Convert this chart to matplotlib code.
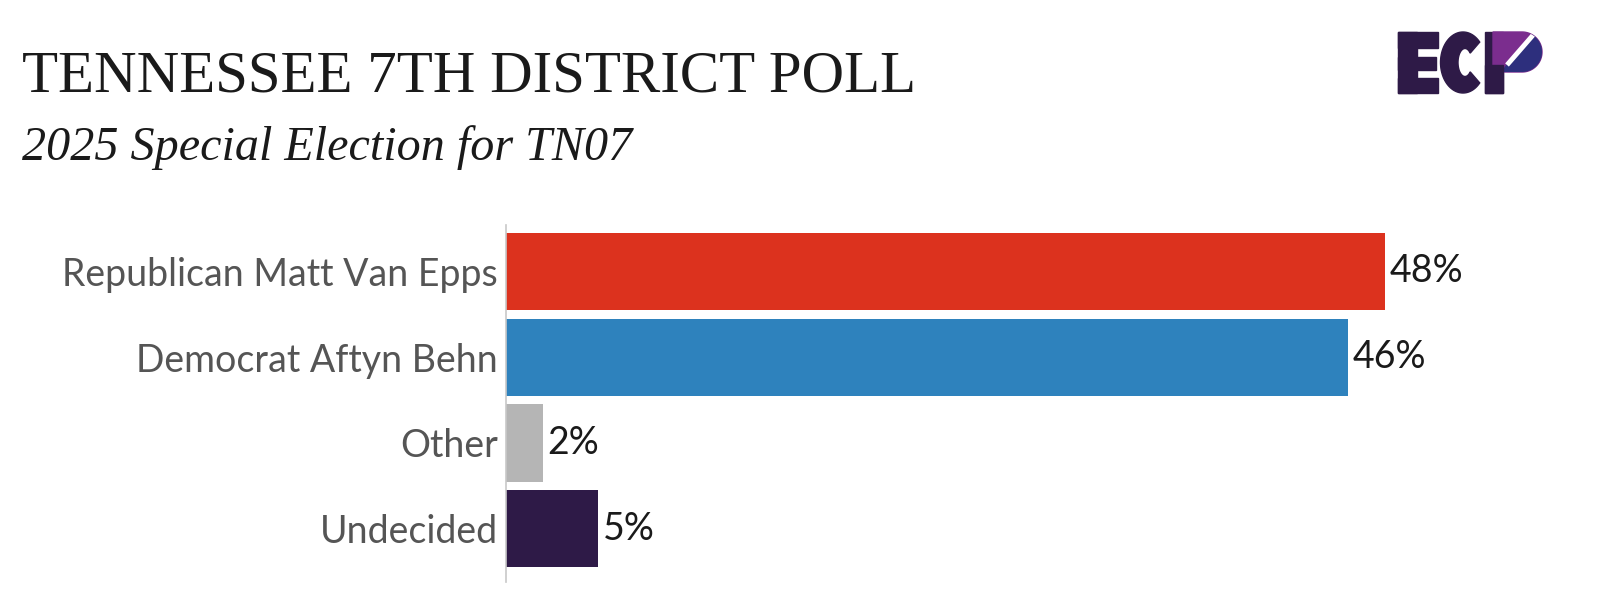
import numpy as np
import matplotlib.pyplot as plt
from matplotlib.patches import Rectangle, Polygon

candidates = ['Republican Matt Van Epps', 'Democrat Aftyn Behn', 'Other', 'Undecided']
shares = [48, 46, 2, 5]
colors = ['#dc321e', '#2e82bd', '#b5b5b5', '#2e1a47']

title = 'TENNESSEE 7TH DISTRICT POLL'
subtitle = '2025 Special Election for TN07'

W, H = 1600, 608
fig = plt.figure(figsize=(W / 100, H / 100), dpi=100)

# axes box in pixels: left 506, top 225, right 1560, bottom 582
ax = fig.add_axes([506 / W, 1 - 582 / H, (1560 - 506) / W, (582 - 225) / H])
ypos = list(range(len(candidates)))
ax.barh(ypos, shares, height=0.9, color=colors)
ax.set_xlim(0, 1054 / 18.31)
ax.set_ylim(3.62, -0.54)

ax.set_yticks(ypos)
ax.set_yticklabels(candidates, fontsize=27, color='#555555', family='Lato')
ax.tick_params(axis='y', length=0, pad=6)
ax.set_xticks([])
for s in ['top', 'right', 'bottom']:
    ax.spines[s].set_visible(False)
ax.spines['left'].set_color('#c8c8c8')
ax.spines['left'].set_linewidth(1.2)

for y, v in zip(ypos, shares):
    ax.annotate(f'{v}%', (v, y), xytext=(3.5, 0), textcoords='offset points',
                va='center', ha='left', fontsize=27, color='#1a1a1a', family='Lato')

fig.text(22 / W, 1 - 91 / H, title, fontsize=42.4, family='Liberation Serif',
         color='#1a1a1a', va='baseline', ha='left')
fig.text(22 / W, 1 - 160 / H, subtitle, fontsize=34.7, family='Liberation Serif',
         style='italic', color='#1a1a1a', va='baseline', ha='left')

# ECP logo, drawn in a small pixel-scaled axes
logo = fig.add_axes([1385 / W, 1 - 105 / H, 170 / W, 80 / H])
logo.set_xlim(0, 170)
logo.set_ylim(0, 80)
logo.axis('off')
dark = '#2e1a47'
# E
logo.add_patch(Rectangle((13, 12), 19, 61, color=dark))
logo.add_patch(Rectangle((13, 57), 40, 16, color=dark))
logo.add_patch(Rectangle((13, 35), 38, 13, color=dark))
logo.add_patch(Rectangle((13, 12), 40, 15, color=dark))
# C
t = np.radians(np.linspace(42, 318, 80))
outer = np.column_stack([78 + 22.5 * np.cos(t), 42.5 + 30.5 * np.sin(t)])
inner = np.column_stack([80 + 7 * np.cos(t[::-1]), 42.5 + 14 * np.sin(t[::-1])])
logo.add_patch(Polygon(np.vstack([outer, inner]), color=dark))
# P
logo.add_patch(Rectangle((100, 12), 18, 61, color=dark))
t = np.radians(np.linspace(90, -90, 60))
bowl = np.column_stack([137 + 20 * np.cos(t), 53 + 20 * np.sin(t)])
bowl = np.vstack([[[108, 73]], bowl, [[108, 33]]])
purple = Polygon(bowl, color='#7b2d8e')
logo.add_patch(purple)
navy = Polygon([[108, 20], [122, 40], [172, 97], [175, 20]], color='#2d2f7d')
logo.add_patch(navy)
navy.set_clip_path(purple)
cut, = logo.plot([122, 152], [40, 74.5], color='white', lw=3.5, solid_capstyle='butt')
cut.set_clip_path(purple)
logo.add_patch(Rectangle((100, 12), 18, 28, color=dark))

fig.savefig('out.png', dpi=100, facecolor='white')
